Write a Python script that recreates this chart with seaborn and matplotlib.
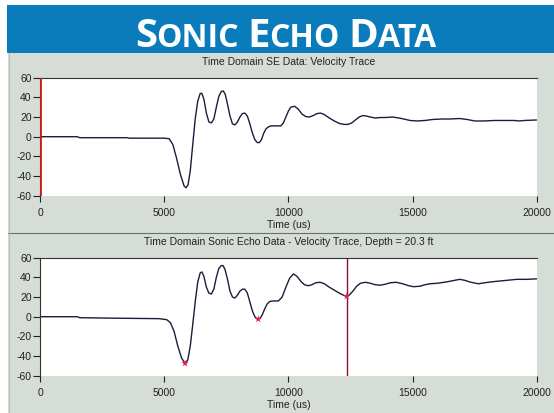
import matplotlib
matplotlib.use("Agg")
import matplotlib.pyplot as plt
import seaborn as sns
from matplotlib.patches import Rectangle

# top trace: Time Domain SE Data
se_time = [0, 1500, 1600, 3500, 3600, 5000, 5200, 5350, 5500, 5650, 5800, 5880, 5960, 6050,
           6150, 6250, 6350, 6450, 6520, 6600, 6700, 6800, 6900, 7000, 7100, 7200, 7300, 7380,
           7460, 7550, 7650, 7750, 7850, 7950, 8050, 8150, 8250, 8350, 8450, 8550, 8650, 8750,
           8830, 8920, 9000, 9100, 9200, 9300, 9500, 9700, 9800, 9900, 10000, 10100, 10250,
           10400, 10550, 10700, 10850, 11000, 11150, 11300, 11450, 11650, 11850, 12050, 12250,
           12400, 12550, 12700, 12850, 13000, 13150, 13300, 13500, 13700, 13900, 14200, 14450,
           14650, 14900, 15200, 15500, 15800, 16200, 16500, 16900, 17200, 17500, 17900, 18300,
           18700, 19100, 19300, 19500, 20000]
se_vel = [0, 0, -1, -1, -1.5, -1.5, -2, -8, -22, -38, -50, -52, -49, -35,
          -8, 18, 36, 44, 44, 38, 24, 15, 14, 18, 30, 41, 46, 46.5,
          43, 33, 21, 13, 12, 15, 20, 23.5, 24, 21, 13, 4, -3, -6,
          -6, -3, 3, 8, 10, 11, 11, 11, 14, 20, 26, 30, 31,
          28, 23, 20.5, 20, 21.5, 23.5, 24, 22.5, 19, 16, 13.5, 12.5,
          12.5, 14, 17, 20, 21.5, 21, 20, 19, 19.5, 19.5, 20, 19,
          18, 16.5, 16, 16.5, 17.5, 18, 18, 18.5, 17.5, 16, 16, 16.5,
          16.5, 16.5, 16, 16.5, 17]

# bottom trace: Sonic Echo Data, depth 20.3 ft
echo_time = [0, 1500, 1600, 3000, 4800, 5100, 5250, 5400, 5550, 5700, 5840, 5950, 6050, 6150,
             6250, 6350, 6450, 6520, 6600, 6700, 6800, 6900, 7000, 7100, 7200, 7300, 7370,
             7450, 7550, 7650, 7750, 7850, 7950, 8050, 8150, 8250, 8350, 8450, 8550, 8650,
             8750, 8850, 8950, 9050, 9150, 9250, 9400, 9600, 9750, 9900, 10050, 10200, 10350,
             10500, 10650, 10800, 10950, 11100, 11280, 11450, 11650, 11850, 12050, 12250,
             12350, 12450, 12600, 12750, 12900, 13100, 13300, 13500, 13700, 13900, 14100,
             14350, 14600, 14850, 15050, 15300, 15500, 15700, 16000, 16400, 16700, 16900,
             17100, 17350, 17650, 17900, 18200, 18400, 18800, 19200, 19600, 20000]
echo_vel = [0, 0, -1, -1.5, -2, -3, -6, -15, -30, -42, -47.5, -44, -30, -8,
            15, 35, 44.5, 45.5, 41, 30, 24, 23, 28, 40, 49, 52, 52,
            48, 38, 26, 20, 19, 22, 26, 28, 28, 24, 15, 6, 0,
            -2.5, -2, 2, 8, 13, 15.5, 16, 16, 20, 30, 39, 43.5, 41,
            36, 32.5, 31.5, 32.5, 34.5, 35, 33.5, 30, 27, 24, 21.5,
            20.6, 22, 26, 31, 34, 35, 34, 32.5, 32, 33, 34.5,
            35, 33.5, 31.5, 30.5, 31, 32.5, 33.5, 34, 35.5, 37, 38,
            37, 35, 33.5, 34.5, 35.5, 36, 37, 38, 38, 38.5]

# picked points and cursor on the bottom trace
pick_time = [5840, 8790, 12350]
pick_vel = [-47.5, -2.5, 20.6]
cursor_time = 12350

x_ticks = [0, 5000, 10000, 15000, 20000]
y_ticks = [-60, -40, -20, 0, 20, 40, 60]

sns.set_style("ticks")
plt.rcParams["font.family"] = ["Liberation Sans", "DejaVu Sans"]
plt.rcParams["axes.unicode_minus"] = False

W, H = 554, 413
fig = plt.figure(figsize=(W / 100, H / 100), dpi=100, facecolor="white")

# gray panel and blue banner (behind the axes)
fig.patches.append(Rectangle((8 / W, 0), 1, 1 - 53 / H, transform=fig.transFigure,
                             facecolor="#d6dcd6", edgecolor="none", zorder=-2))
fig.patches.append(Rectangle((7 / W, 1 - 53 / H), 1, 48 / H, transform=fig.transFigure,
                             facecolor="#0a7cbb", edgecolor="none", zorder=-2))
fig.add_artist(plt.Line2D([8 / W, 1], [1 - 233 / H, 1 - 233 / H], transform=fig.transFigure,
                          color="#6a706a", lw=0.8, zorder=-1))
fig.add_artist(plt.Line2D([9 / W, 9 / W], [0, 1 - 53 / H], transform=fig.transFigure,
                          color="#b8beb8", lw=0.8, zorder=-1))

# small caps banner title
renderer = fig.canvas.get_renderer()
pieces = [("S", 29), ("ONIC", 23), (" ", 23), ("E", 29), ("CHO", 23), (" ", 23), ("D", 29), ("ATA", 23)]
texts = []
x_px = 0
for s, size in pieces:
    if s == " ":
        x_px += 10
        continue
    t = fig.text(0, 1 - 47 / H, s, color="white", fontsize=size, fontweight="bold",
                 family="Open Sans", ha="left", va="baseline")
    w = t.get_window_extent(renderer).width
    texts.append((t, x_px))
    x_px += w - 1
start = 285 - x_px / 2
for t, off in texts:
    t.set_x((start + off) / W)

panels = [
    (1 - 195.7 / H, se_time, se_vel, "Time Domain SE Data: Velocity Trace"),
    (1 - 375.7 / H, echo_time, echo_vel, "Time Domain Sonic Echo Data - Velocity Trace, Depth = 20.3 ft"),
]
for i, (bottom, t, v, title) in enumerate(panels):
    ax = fig.add_axes([40 / W, bottom, 496.7 / W, 118 / H])
    ax.set_facecolor("white")
    sns.lineplot(x=t, y=v, ax=ax, color="#1c1c3c", lw=1.0, sort=False)
    if i == 0:
        ax.axvline(0, color="#d01818", lw=2.0, zorder=5)
    else:
        ax.axvline(cursor_time, color="#8a1238", lw=1.0, zorder=1)
        sns.scatterplot(x=pick_time, y=pick_vel, ax=ax, color="#e8204a", marker="*",
                        s=30, edgecolor="none", zorder=6)
    ax.set_xlim(0, 20000)
    ax.set_ylim(-60, 60)
    ax.set_xticks(x_ticks)
    ax.set_yticks(y_ticks)
    ax.tick_params(axis="both", labelsize=7.5, colors="#222222", width=0.8)
    ax.tick_params(axis="x", length=4, pad=5)
    ax.tick_params(axis="y", length=5, pad=1)
    for side in ["right", "bottom"]:
        ax.spines[side].set_visible(False)
    ax.spines["top"].set_color("#333333")
    ax.spines["top"].set_linewidth(0.8)
    ax.spines["left"].set_color("#333333")
    ax.spines["left"].set_linewidth(0.8)
    ax.set_title(title, fontsize=7.5, color="#222222", pad=9)
    ax.set_xlabel("Time (us)", fontsize=7.5, color="#222222", labelpad=1)
    ax.set_ylabel("")

fig.savefig("out.png", dpi=100, facecolor=fig.get_facecolor())
